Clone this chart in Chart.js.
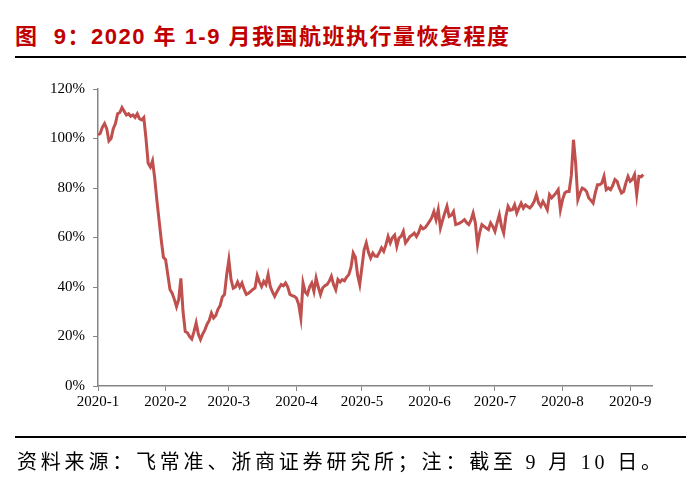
<!DOCTYPE html>
<html>
<head>
<meta charset="utf-8">
<script src="https://cdn.jsdelivr.net/npm/chart.js@4.4.0/dist/chart.umd.min.js"></script>
<style>
  html, body { margin: 0; padding: 0; background: #fff; }
  #page { position: relative; width: 691px; height: 496px; overflow: hidden; }
  #title {
    position: absolute; left: 15px; top: 18px; white-space: nowrap;
    font-family: "Liberation Sans", "Noto Sans CJK SC", sans-serif;
    font-weight: bold; font-size: 22px; color: #c00000; letter-spacing: 1.5px;
  }
  .rule { position: absolute; left: 15px; width: 671px; height: 2px; background: #000; }
  #source {
    position: absolute; left: 17px; top: 446px; white-space: nowrap;
    font-family: "Liberation Serif", "Noto Sans CJK SC", serif;
    font-size: 20px; color: #000; letter-spacing: 3.8px;
  }
  canvas { position: absolute; left: 0; top: 0; }
</style>
</head>
<body>
<div id="page">
  <div id="title">图&nbsp;&nbsp;9：2020 年 1-9 月我国航班执行量恢复程度</div>
  <div class="rule" style="top:56px"></div>
  <canvas id="flightChart" width="691" height="496"></canvas>
  <div class="rule" style="top:436px"></div>
  <div id="source">资料来源：飞常准、浙商证券研究所；注：截至 9 月 10 日。</div>
</div>
<script>
// Flight recovery chart, daily values since 2020-01-01 (%)

// Month labels and their day offsets from Jan 1
const monthLabels = ['2020-1', '2020-2', '2020-3', '2020-4', '2020-5', '2020-6', '2020-7', '2020-8', '2020-9'];
const monthStarts = [0, 31, 60, 91, 121, 152, 182, 213, 244];

// Y ticks
const yTicks = [0, 20, 40, 60, 80, 100, 120];

// Recovery level per day (%)
const recovery = [
  101.5, 102, 104.5, 106, 104, 99, 100, 104, 106, 110,
  110.5, 112.5, 111, 109.5, 110, 109, 109.5, 108.5, 110, 108,
  107.5, 108.5, 100, 90, 88.5, 91, 84, 75, 67, 59,
  52, 51, 45, 39, 37.5, 35, 32, 35, 43.5, 30,
  22, 21.5, 20, 19, 22, 25.5, 21, 18.8, 21, 22.7,
  25, 26.5, 29.5, 27.5, 28.5, 31, 32.5, 36, 37, 45,
  51, 43, 39.5, 40, 42, 40, 41.6, 39, 37, 37.5,
  38.2, 39, 39.6, 44.6, 42, 40.2, 42.3, 41, 45, 40.2,
  38, 36.2, 38, 39.6, 41, 40.5, 41.6, 40, 37, 36.5,
  36.2, 35.5, 33, 27.5, 41.6, 38, 37, 40, 41.6, 38.2,
  43.6, 40, 37, 39.6, 40.5, 41, 42.3, 44.3, 41, 38.9,
  43, 42, 43, 42.5, 44, 45, 48, 53.7, 52, 45,
  41, 48, 55, 57.8, 54, 51.7, 53.7, 52.5, 52.4, 54,
  55.8, 54.4, 57, 60.4, 57.8, 60, 61, 56.4, 59.8, 60.5,
  62.5, 57.8, 59, 60.4, 61, 61.8, 60.4, 62, 64.5, 63.5,
  64, 65.2, 66.5, 68, 70.5, 67.2, 71.2, 63.8, 67, 69.9,
  72.6, 68.5, 69, 70.5, 65.2, 65.5, 65.9, 66.5, 67.2, 66,
  65.2, 67, 69.9, 66, 57.1, 62, 65.2, 64.5, 63.8, 63.2,
  65.9, 64.5, 62.5, 66, 69.2, 64.5, 61.8, 68.5, 72.6, 71,
  71.2, 73.2, 69.9, 72, 73.9, 71.9, 73.2, 72.5, 71.9, 73,
  74.6, 77.3, 74, 72.6, 74.6, 73, 71.2, 77.3, 76, 77,
  78, 79.3, 71.2, 75.3, 78, 78.6, 78.6, 85, 99.5, 90,
  75.3, 78, 80, 79.5, 78.6, 76, 75, 73.9, 78, 81.3,
  81.3, 82, 84.7, 79.3, 80, 79.3, 81, 83.4, 82.7, 80,
  78, 78.6, 82, 84.7, 82.7, 83.5, 85.4, 77.3, 84.7, 84.5,
  85.4
];

const tickFont = { family: '"Liberation Serif", "Times New Roman", serif', size: 15 };
const axisGray = '#868686';

const points = recovery.map((v, i) => ({ x: i, y: v }));

const flightChart = new Chart(document.getElementById('flightChart'), {
  type: 'line',
  data: {
    datasets: [{
      label: '航班执行量恢复程度',
      data: points,
      borderColor: '#c0504d',
      borderWidth: 3,
      pointRadius: 0,
      tension: 0,
      fill: false
    }]
  },
  options: {
    responsive: false,
    animation: false,
    layout: { padding: { left: 0, top: 89, right: 39, bottom: 80 } },
    plugins: {
      legend: { display: false },
      tooltip: { enabled: false }
    },
    scales: {
      x: {
        type: 'linear',
        min: 0,
        max: 254,
        afterBuildTicks: (axis) => { axis.ticks = monthStarts.map(v => ({ value: v })); },
        afterFit: (axis) => { axis.height = 30; },
        ticks: {
          autoSkip: false,
          maxRotation: 0,
          padding: 2,
          color: '#000',
          font: tickFont,
          callback: (value, index) => monthLabels[index]
        },
        grid: { drawOnChartArea: false, drawTicks: true, tickLength: 5, color: axisGray },
        border: { color: axisGray, width: 1.5 }
      },
      y: {
        min: 0,
        max: 120,
        afterBuildTicks: (axis) => { axis.ticks = yTicks.map(v => ({ value: v })); },
        afterFit: (axis) => { axis.width = 98; },
        ticks: {
          padding: 8,
          color: '#000',
          font: tickFont,
          callback: (value) => value + '%'
        },
        grid: { drawOnChartArea: false, drawTicks: true, tickLength: 5, color: axisGray },
        border: { color: axisGray, width: 1.5 }
      }
    }
  },
  plugins: []
});
</script>
</body>
</html>
